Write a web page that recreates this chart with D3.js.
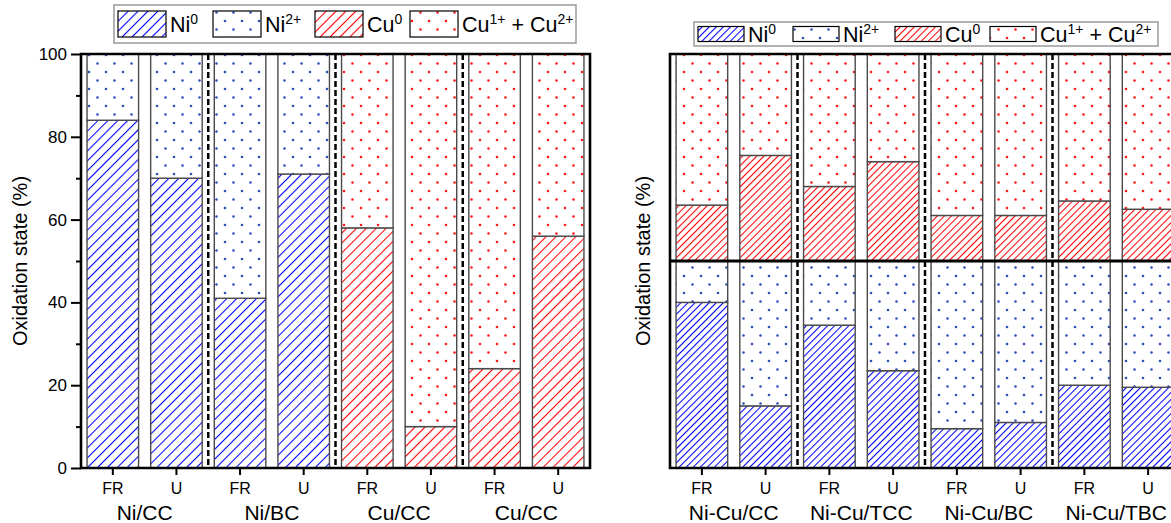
<!DOCTYPE html>
<html><head><meta charset="utf-8">
<script src="https://cdn.jsdelivr.net/npm/d3@7"></script>
<style>body{margin:0;background:#fff}svg{display:block}text{font-family:"Liberation Sans",Arial,sans-serif}</style>
</head><body>
<script>
// ---- data ----
const samples = ["FR","U"];
const leftGroups = ["Ni/CC","Ni/BC","Cu/CC","Cu/CC"];
const leftMetal = ["Ni","Ni","Cu","Cu"];
const leftReduced = [84,70,41,71,58,10,24,56];      // Ni0 or Cu0 (%)
const rightGroups = ["Ni-Cu/CC","Ni-Cu/TCC","Ni-Cu/BC","Ni-Cu/TBC"];
const rightNi0 = [80,30,69,47,19,22,40,39];          // Ni0 share of Ni (%)
const rightCu0 = [27,51,36,48,22,22,29,25];          // Cu0 share of Cu (%)
const yTicks = [0,20,40,60,80,100];
const yMinor = [10,30,50,70,90];
// legend entries: [pattern, [text, superscript] parts...]
const legendItems = [
  ["hatchB",[["Ni",0],["0",1]]],
  ["dotB",[["Ni",0],["2+",1]]],
  ["hatchR",[["Cu",0],["0",1]]],
  ["dotR",[["Cu",0],["1+",1],[" + Cu",0],["2+",1]]]
];

const W=1171,H=523;
const svg=d3.select("body").append("svg").attr("width",W).attr("height",H);
const defs=svg.append("defs");
const BLUE="#0000ff", RED="#ff0000", DOTB="#2f4fb8", DOTR="#ff1a1a";
function hatch(id,color,s){
  const p=defs.append("pattern").attr("id",id).attr("patternUnits","userSpaceOnUse")
    .attr("width",s).attr("height",s).attr("patternTransform","rotate(45)");
  p.append("rect").attr("width",s).attr("height",s).attr("fill","#fff");
  p.append("line").attr("x1",0.5).attr("y1",0).attr("x2",0.5).attr("y2",s).attr("stroke",color).attr("stroke-width",1.1);
}
function dots(id,color){
  const p=defs.append("pattern").attr("id",id).attr("patternUnits","userSpaceOnUse")
    .attr("width",17).attr("height",17);
  p.append("rect").attr("width",17).attr("height",17).attr("fill","#fff");
  p.append("circle").attr("cx",4).attr("cy",4).attr("r",1.3).attr("fill",color);
  p.append("circle").attr("cx",12.5).attr("cy",12.5).attr("r",1.3).attr("fill",color);
}
hatch("hatchB_L",BLUE,7); hatch("hatchR_L",RED,7);
hatch("hatchB_R",BLUE,5); hatch("hatchR_R",RED,5);
dots("dotB",DOTB); dots("dotR",DOTR);

const yTop=54,yBot=468;
const y=d3.scaleLinear().domain([0,100]).range([yBot,yTop]);

function panel(x0,x1,groups,segsFn,showYAxis,midline){
  const cats=[]; groups.forEach((g,i)=>samples.forEach(s=>cats.push(i+"_"+s)));
  const x=d3.scaleBand().domain(cats).range([x0,x1]).paddingInner(0.19).paddingOuter(0.095);
  const g=svg.append("g");
  cats.forEach((c,i)=>{
    segsFn(i).forEach(sg=>{
      g.append("rect").attr("x",x(c)).attr("width",x.bandwidth())
        .attr("y",y(sg[1])).attr("height",y(sg[0])-y(sg[1]))
        .attr("fill","url(#"+sg[2]+")").attr("stroke","#4a4a4a").attr("stroke-width",1.4);
    });
  });
  for(let k=1;k<groups.length;k++){
    const xs=(x(k-1+"_U")+x.bandwidth()+x(k+"_FR"))/2;
    g.append("line").attr("x1",xs).attr("x2",xs).attr("y1",yTop).attr("y2",yBot)
      .attr("stroke","#000").attr("stroke-width",2.5).attr("stroke-dasharray","6,3");
  }
  if(midline){
    g.append("line").attr("x1",x0).attr("x2",x1).attr("y1",y(50)).attr("y2",y(50)).attr("stroke","#000").attr("stroke-width",3);
  }
  g.append("path").attr("d",`M${x0},${yTop}H${x1}V${yBot}H${x0}Z`).attr("fill","none").attr("stroke","#000").attr("stroke-width",2.6);
  const xa=d3.axisBottom(x).tickSize(7).tickFormat(d=>d.split("_")[1]);
  const gx=g.append("g").attr("transform",`translate(0,${yBot})`).call(xa);
  gx.select(".domain").remove();
  gx.selectAll(".tick line").attr("stroke","#000").attr("stroke-width",2);
  gx.selectAll(".tick text").attr("y",0).attr("dy",0).attr("transform","translate(0,26)").attr("font-size",16).attr("fill","#000");
  groups.forEach((gr,k)=>{
    const cx=(x(k+"_FR")+x(k+"_U")+x.bandwidth())/2;
    g.append("text").attr("x",cx).attr("y",520).attr("text-anchor","middle").attr("font-size",21).text(gr);
  });
  if(showYAxis){
    const ya=d3.axisLeft(y).tickValues(yTicks).tickSize(10).tickPadding(4).tickFormat(d3.format("d"));
    const gy=g.append("g").attr("transform",`translate(${x0},0)`).call(ya);
    gy.select(".domain").remove();
    gy.selectAll(".tick line").attr("stroke","#000").attr("stroke-width",2);
    gy.selectAll(".tick text").attr("font-size",17).attr("fill","#000");
    const gm=g.append("g").attr("transform",`translate(${x0},0)`).call(d3.axisLeft(y).tickValues(yMinor).tickSize(5).tickFormat(""));
    gm.select(".domain").remove();
    gm.selectAll(".tick line").attr("stroke","#000").attr("stroke-width",2);
  }
  const tx=showYAxis?27:650;
  g.append("text").attr("transform",`translate(${tx},${(yTop+yBot)/2}) rotate(-90)`).attr("text-anchor","middle").attr("font-size",20).text("Oxidation state (%)");
}

panel(81,590,leftGroups,i=>{
  const m=leftMetal[Math.floor(i/2)], v=leftReduced[i];
  return m==="Ni"?[[0,v,"hatchB_L"],[v,100,"dotB"]]:[[0,v,"hatchR_L"],[v,100,"dotR"]];
},true,false);
panel(670,1180,rightGroups,i=>{
  const n=rightNi0[i]/2, c=50+rightCu0[i]/2;
  return [[0,n,"hatchB_R"],[n,50,"dotB"],[50,c,"hatchR_R"],[c,100,"dotR"]];
},false,true);

function legend(x0,y0,w,h,fs,boxW,boxH,hsfx){
  const g=svg.append("g");
  g.append("rect").attr("x",x0).attr("y",y0).attr("width",w).attr("height",h).attr("fill","#fff").attr("stroke","#9a9a9a").attr("stroke-width",1.5);
  const offs=[0,95,197,292];
  legendItems.forEach((it,i)=>{
    const cx=x0+4+offs[i];
    const pid=it[0].startsWith("hatch")?it[0]+hsfx:it[0];
    g.append("rect").attr("x",cx).attr("y",y0+(h-boxH)/2).attr("width",boxW).attr("height",boxH).attr("fill","url(#"+pid+")").attr("stroke","#000").attr("stroke-width",1.2);
    const t=g.append("text").attr("x",cx+boxW+4).attr("y",y0+h/2+fs*0.36).attr("font-size",fs);
    let sup=false;
    it[1].forEach(part=>{
      const ts=t.append("tspan").text(part[0]);
      if(part[1]&&!sup){ts.attr("font-size",fs*0.65).attr("dy",-fs*0.38);sup=true;}
      else if(!part[1]&&sup){ts.attr("dy",fs*0.38);sup=false;}
    });
  });
}
legend(114,5,462,38,21.5,48,26,"_L");
legend(694,22,464,24,21.5,46,15,"_R");
</script>
</body></html>
